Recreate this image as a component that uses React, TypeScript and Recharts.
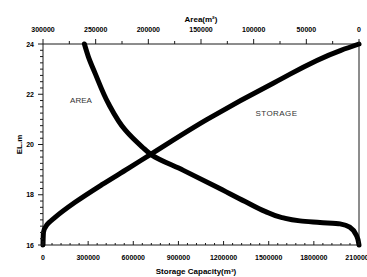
import {
  ReferenceDot,
  ReferenceLine,
  Scatter,
  ScatterChart,
  XAxis,
  YAxis
} from "recharts";

const storageEl = [16, 16.5, 16.8, 17.1, 17.7, 18.4, 19.05, 19.6, 21.0, 22.45, 23.75, 24];
const storageVol = [0, 3000, 25000, 80000, 213000, 391000, 567000, 713000, 1091000, 1533000, 1980000, 2100000];

const areaEl = [16, 16.36, 16.7, 16.84, 16.9, 16.96, 17.09, 17.34, 17.73, 18.31, 18.97, 19.58, 19.91, 20.58, 21.64, 22.83, 23.49, 24];
const areaVal = [0, 2200, 8500, 18000, 37000, 56000, 73100, 89200, 108100, 135000, 166700, 196700, 206000, 222000, 238000, 250500, 256900, 260700];

const storageTicks = [0, 300000, 600000, 900000, 1200000, 1500000, 1800000, 2100000];
const areaTicks = [0, 50000, 100000, 150000, 200000, 250000, 300000];
const elTicks = [16, 18, 20, 22, 24];

const storageData = storageEl.map((el, i) => ({ el, storage: storageVol[i] }));
const areaData = areaEl.map((el, i) => ({ el, area: areaVal[i] }));

// minor ticks between the labelled ones
const storageMinor: number[] = [];
for (let v = 0; v <= 2100000; v += 60000) storageMinor.push(v);
const areaMinor: number[] = [];
for (let v = 0; v <= 300000; v += 25000) areaMinor.push(v);
const elMinor: number[] = [];
for (let v = 16; v <= 24; v += 0.25) elMinor.push(v);

const ink = "#1a1a1a";
const font = "'Liberation Sans', Arial, sans-serif";

function BottomTick({ x, y, payload }: any) {
  const major = storageTicks.includes(payload.value);
  return (
    <g>
      <line x1={x} x2={x} y1={y} y2={y - (major ? 4 : 2)} stroke={ink} />
      {major && (
        <text x={x} y={y + 14.5} textAnchor="middle" fontSize={7} fontWeight="bold" fontFamily={font} fill="#000">
          {payload.value}
        </text>
      )}
    </g>
  );
}

function TopTick({ x, y, payload }: any) {
  const major = areaTicks.includes(payload.value);
  return (
    <g>
      <line x1={x} x2={x} y1={y} y2={y - (major ? 5 : 3)} stroke={ink} />
      {major && (
        <text x={x} y={y - 12.5} textAnchor="middle" fontSize={7} fontWeight="bold" fontFamily={font} fill="#000">
          {payload.value}
        </text>
      )}
    </g>
  );
}

function LeftTick({ x, y, payload }: any) {
  const major = elTicks.includes(payload.value);
  return (
    <g>
      <line x1={x} x2={x - (major ? 5 : 3)} y1={y} y2={y} stroke={ink} />
      {major && (
        <text x={x - 9} y={y + 2.5} textAnchor="end" fontSize={7} fontWeight="bold" fontFamily={font} fill="#000">
          {payload.value}
        </text>
      )}
    </g>
  );
}

const curveLine = { stroke: "#000", strokeWidth: 5, strokeLinecap: "round", strokeLinejoin: "round" };

export default function App() {
  return (
    <div style={{ position: "absolute", left: 0, top: 0, width: 367, height: 277, background: "#fff" }}>
      <ScatterChart width={367} height={277} margin={{ top: 0, right: 8, bottom: 0, left: 0 }}>
        <XAxis
          xAxisId="storage"
          dataKey="storage"
          type="number"
          domain={[0, 2100000]}
          ticks={storageMinor}
          interval={0}
          tick={<BottomTick />}
          tickLine={false}
          tickSize={0}
          tickMargin={0}
          height={32}
          stroke={ink}
          label={{
            content: ({ viewBox }: any) => (
              <text
                x={viewBox.x + viewBox.width / 2 - 5}
                y={viewBox.y + 29}
                textAnchor="middle"
                fontSize={8}
                fontWeight="bold"
                fontFamily={font}
                fill="#000"
              >
                Storage Capacity(m³)
              </text>
            )
          }}
        />
        <XAxis
          xAxisId="area"
          dataKey="area"
          type="number"
          orientation="top"
          reversed
          domain={[0, 300000]}
          ticks={areaMinor}
          interval={0}
          tick={<TopTick />}
          tickLine={false}
          tickSize={0}
          tickMargin={0}
          height={44}
          stroke={ink}
          label={{
            content: ({ viewBox }: any) => (
              <text
                x={viewBox.x + viewBox.width / 2}
                y={viewBox.y + 22}
                textAnchor="middle"
                fontSize={8}
                fontWeight="bold"
                fontFamily={font}
                fill="#000"
              >
                Area(m²)
              </text>
            )
          }}
        />
        <YAxis
          dataKey="el"
          type="number"
          domain={[16, 24]}
          ticks={elMinor}
          interval={0}
          tick={<LeftTick />}
          tickLine={false}
          tickSize={0}
          tickMargin={0}
          width={43}
          stroke={ink}
          label={{
            content: ({ viewBox }: any) => (
              <text
                x={20}
                y={viewBox.y + viewBox.height / 2}
                transform={`rotate(-90, 20, ${viewBox.y + viewBox.height / 2})`}
                textAnchor="middle"
                dominantBaseline="middle"
                fontSize={8}
                fontWeight="bold"
                fontFamily={font}
                fill="#000"
              >
                EL.m
              </text>
            )
          }}
        />
        <ReferenceLine xAxisId="storage" x={2100000} stroke={ink} />
        <Scatter
          xAxisId="storage"
          data={storageData}
          line={curveLine}
          lineJointType="monotoneY"
          shape={() => <g />}
          isAnimationActive={false}
        />
        <Scatter
          xAxisId="area"
          data={areaData}
          line={curveLine}
          lineJointType="monotoneY"
          shape={() => <g />}
          isAnimationActive={false}
        />
        <ReferenceDot
          xAxisId="storage"
          x={180000}
          y={21.77}
          r={0}
          label={{
            content: ({ viewBox }: any) => (
              <text x={viewBox.x} y={viewBox.y + 3} fontSize={8} fontFamily={font} fill="#333">
                AREA
              </text>
            )
          }}
        />
        <ReferenceDot
          xAxisId="storage"
          x={1413000}
          y={21.27}
          r={0}
          label={{
            content: ({ viewBox }: any) => (
              <text x={viewBox.x} y={viewBox.y + 3} fontSize={8} letterSpacing={0.4} fontFamily={font} fill="#333">
                STORAGE
              </text>
            )
          }}
        />
      </ScatterChart>
    </div>
  );
}
